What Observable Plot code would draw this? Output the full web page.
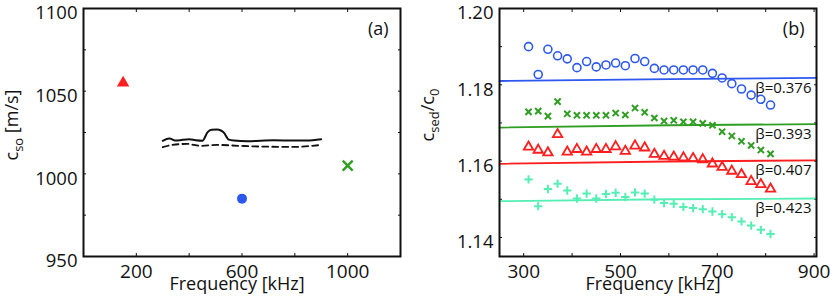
<!DOCTYPE html>
<html><head><meta charset="utf-8">
<script src="https://cdn.jsdelivr.net/npm/d3@7"></script>
<script src="https://cdn.jsdelivr.net/npm/@observablehq/plot@0.6"></script>
<style>
body{margin:0;background:#fff;}
#wrap{display:flex;width:830px;height:302px;}
svg{display:block;}
</style></head><body><div id="wrap"></div>
<script>
// ---------- Panel (a) data ----------
const aMarkerFreq = [150, 600, 1000];
const aMarkerSpeed = [1055, 985, 1005];
const aSolidFreq = [300, 325, 350, 375, 400, 425, 450, 470, 485, 505, 520, 530, 550, 570, 620, 670, 720, 795, 845, 900];
const aSolidSpeed = [1020.0, 1021.4, 1020.1, 1020.6, 1020.9, 1020.3, 1020.0, 1025.2, 1026.6, 1026.8, 1026.2, 1025.2, 1020.7, 1020.1, 1019.7, 1020.0, 1020.3, 1020.1, 1020.1, 1020.9];
const aDashedFreq = [300, 328, 393, 444, 506, 594, 670, 796, 900];
const aDashedSpeed = [1016.1, 1017.3, 1018.1, 1016.9, 1017.5, 1016.9, 1016.5, 1016.3, 1017.5];
const aTicksX = [200, 400, 600, 800, 1000];
const aTickLabelsX = [200, 600, 1000];
const aTicksY = [950, 975, 1000, 1025, 1050, 1075, 1100];
const aTickLabelsY = [950, 1000, 1050, 1100];

// ---------- Panel (b) data ----------
const bFreq = [310, 330, 350, 370, 390, 410, 430, 450, 470, 490, 510, 530, 550, 570, 590, 610, 630, 650, 670, 690, 710, 730, 750, 770, 790, 810];
const bBlue  = [1.1900, 1.1827, 1.1893, 1.1876, 1.1868, 1.1845, 1.1861, 1.1847, 1.1852, 1.1857, 1.1850, 1.1869, 1.1861, 1.1843, 1.1839, 1.1839, 1.1839, 1.1839, 1.1839, 1.1830, 1.1818, 1.1803, 1.1789, 1.1773, 1.1762, 1.1747];
const bGreen = [1.1729, 1.1731, 1.1718, 1.1756, 1.1724, 1.1720, 1.1720, 1.1720, 1.1720, 1.1726, 1.1721, 1.1739, 1.1728, 1.1713, 1.1705, 1.1707, 1.1703, 1.1703, 1.1699, 1.1694, 1.1677, 1.1666, 1.1652, 1.1641, 1.1629, 1.1619];
const bRed   = [1.1637, 1.1629, 1.1622, 1.1670, 1.1624, 1.1631, 1.1624, 1.1631, 1.1631, 1.1638, 1.1626, 1.1640, 1.1635, 1.1618, 1.1613, 1.1611, 1.1609, 1.1607, 1.1604, 1.1593, 1.1584, 1.1574, 1.1565, 1.1547, 1.1539, 1.1527];
const bCyan  = [1.1552, 1.1482, 1.1527, 1.1541, 1.1523, 1.1502, 1.1515, 1.1502, 1.1514, 1.1517, 1.1506, 1.1518, 1.1515, 1.1499, 1.1490, 1.1488, 1.1480, 1.1477, 1.1474, 1.1468, 1.1461, 1.1453, 1.1442, 1.1431, 1.1420, 1.1409];
const bFitFreq = [250, 600, 905];
const bFitBlue  = [1.1810, 1.1815, 1.1818];
const bFitGreen = [1.1688, 1.1694, 1.1697];
const bFitRed   = [1.1593, 1.1599, 1.1602];
const bFitCyan  = [1.1495, 1.1500, 1.1502];
const betaLabels = ["β=0.376", "β=0.393", "β=0.407", "β=0.423"];
const bTicksX = [300, 400, 500, 600, 700, 800, 900];
const bTickLabelsX = [300, 500, 700, 900];
const bTicksY = [1.14, 1.15, 1.16, 1.17, 1.18, 1.19, 1.20];
const bTickLabelsY = [1.14, 1.16, 1.18, 1.20];

// ---------- styles ----------
const COL = {blue: "#2d58f0", green: "#2f9e22", red: "#ff1e1e", cyan: "#55efb4", ink: "#111"};
const fontFamily = "'Open Sans', 'DejaVu Sans', sans-serif";

const series = (xs, ys) => xs.map((x, i) => ({x, y: ys[i]}));

function frameAxes(ticksX, labelsX, ticksY, labelsY, fmtX, fmtY) {
  return [
    Plot.axisX(labelsX, {anchor: "bottom", tickSize: 0, tickPadding: 8, tickFormat: fmtX, label: null, fontSize: 19}),
    Plot.axisX(ticksX, {anchor: "bottom", tickSize: -3, fill: "none", label: null}),
    Plot.axisX(ticksX, {anchor: "top", tickSize: -3, fill: "none", label: null}),
    Plot.axisY(labelsY, {anchor: "left", tickSize: 0, tickPadding: 6, dy: 5, tickFormat: fmtY, label: null, fontSize: 18.5}),
    Plot.axisY(ticksY, {anchor: "left", tickSize: -3, fill: "none", label: null}),
    Plot.axisY(ticksY, {anchor: "right", tickSize: -3, fill: "none", label: null})
  ];
}

const common = {
  width: 415, height: 302, marginTop: 8, marginBottom: 46,
  style: {fontFamily, fontSize: "18px", color: COL.ink, background: "white", overflow: "visible"}
};

const markersA = series(aMarkerFreq, aMarkerSpeed);

const plotA = Plot.plot({
  ...common, marginLeft: 83, marginRight: 15,
  x: {domain: [0, 1200], axis: null, label: null},
  y: {domain: [950, 1100], axis: null, label: null},
  marks: [
    ...frameAxes(aTicksX, aTickLabelsX, aTicksY, aTickLabelsY, d => String(d), d => String(d)),
    Plot.line(series(aSolidFreq, aSolidSpeed), {x: "x", y: "y", stroke: COL.ink, strokeWidth: 2, curve: "monotone-x"}),
    Plot.line(series(aDashedFreq, aDashedSpeed), {x: "x", y: "y", stroke: COL.ink, strokeWidth: 1.8, strokeDasharray: "6,4", curve: "monotone-x"}),
    Plot.dot([markersA[0]], {x: "x", y: "y", symbol: "triangle", fill: COL.red, stroke: "none", r: 4.6}),
    Plot.dot([markersA[1]], {x: "x", y: "y", symbol: "circle", fill: COL.blue, stroke: "none", r: 5}),
    Plot.dot([markersA[2]], {x: "x", y: "y", symbol: "times", stroke: COL.green, strokeWidth: 2.4, r: 4.6}),
    Plot.text(["(a)"], {text: d => d, frameAnchor: "top-right", textAnchor: "end", lineAnchor: "top", dx: -12, dy: 14, fontSize: 18, fill: COL.ink}),
    Plot.frame({stroke: COL.ink, strokeWidth: 2}),
    Plot.text(["Frequency [kHz]"], {text: d => d, frameAnchor: "bottom", lineAnchor: "top", dx: -5, dy: 21, fontSize: 18, fill: COL.ink})
  ]
});

const fits = [bFitBlue, bFitGreen, bFitRed, bFitCyan];
const betaTable = betaLabels.map((label, i) => ({label, x: bFitFreq[bFitFreq.length - 1], y: fits[i][fits[i].length - 1]}));

const plotB = Plot.plot({
  ...common, marginLeft: 84, marginRight: 14,
  x: {domain: [250, 905], axis: null, label: null},
  y: {domain: [1.135, 1.20], axis: null, label: null},
  marks: [
    ...frameAxes(bTicksX, bTickLabelsX, bTicksY, bTickLabelsY, d => String(d), d => d.toFixed(2)),
    Plot.line(series(bFitFreq, bFitBlue), {x: "x", y: "y", stroke: COL.blue, strokeWidth: 1.8, curve: "natural"}),
    Plot.line(series(bFitFreq, bFitGreen), {x: "x", y: "y", stroke: COL.green, strokeWidth: 1.8, curve: "natural"}),
    Plot.line(series(bFitFreq, bFitRed), {x: "x", y: "y", stroke: COL.red, strokeWidth: 1.8, curve: "natural"}),
    Plot.line(series(bFitFreq, bFitCyan), {x: "x", y: "y", stroke: COL.cyan, strokeWidth: 1.8, curve: "natural"}),
    Plot.dot(series(bFreq, bBlue), {x: "x", y: "y", symbol: "circle", stroke: COL.blue, fill: "none", strokeWidth: 1.6, r: 4}),
    Plot.dot(series(bFreq, bGreen), {x: "x", y: "y", symbol: "times", stroke: COL.green, strokeWidth: 2, r: 2.9}),
    Plot.dot(series(bFreq, bRed), {x: "x", y: "y", symbol: "triangle", stroke: COL.red, fill: "none", strokeWidth: 1.8, r: 3.5}),
    Plot.dot(series(bFreq, bCyan), {x: "x", y: "y", symbol: "plus", stroke: COL.cyan, strokeWidth: 2, r: 2.8}),
    Plot.text(betaTable, {x: "x", y: "y", text: "label", textAnchor: "end", lineAnchor: "middle", dx: -5, dy: 10, fontSize: 15, fill: COL.ink}),
    Plot.text(["(b)"], {text: d => d, frameAnchor: "top-right", textAnchor: "end", lineAnchor: "top", dx: -12, dy: 14, fontSize: 18, fill: COL.ink}),
    Plot.frame({stroke: COL.ink, strokeWidth: 2}),
    Plot.text(["Frequency [kHz]"], {text: d => d, frameAnchor: "bottom", lineAnchor: "top", dx: -5, dy: 21, fontSize: 18, fill: COL.ink})
  ]
});

const wrap = document.getElementById("wrap");
wrap.append(plotA, plotB);

function addYLabel(svg, x, y, parts) {
  const t = d3.select(svg).append("text")
    .attr("transform", `translate(${x},${y}) rotate(-90)`)
    .attr("text-anchor", "middle")
    .attr("font-family", fontFamily)
    .attr("font-size", 18)
    .attr("fill", COL.ink);
  let shifted = false;
  for (const [s, sub] of parts) {
    const sp = t.append("tspan").text(s);
    if (sub && !shifted) { sp.attr("dy", 5).attr("font-size", 13); shifted = true; }
    else if (sub) { sp.attr("font-size", 13); }
    else if (shifted) { sp.attr("dy", -5); shifted = false; }
  }
}
addYLabel(plotA, 18, 125, [["c", 0], ["so", 1], [" [m/s]", 0]]);
addYLabel(plotB, 19, 115, [["c", 0], ["sed", 1], ["/c", 0], ["0", 1]]);
</script>
</body></html>
